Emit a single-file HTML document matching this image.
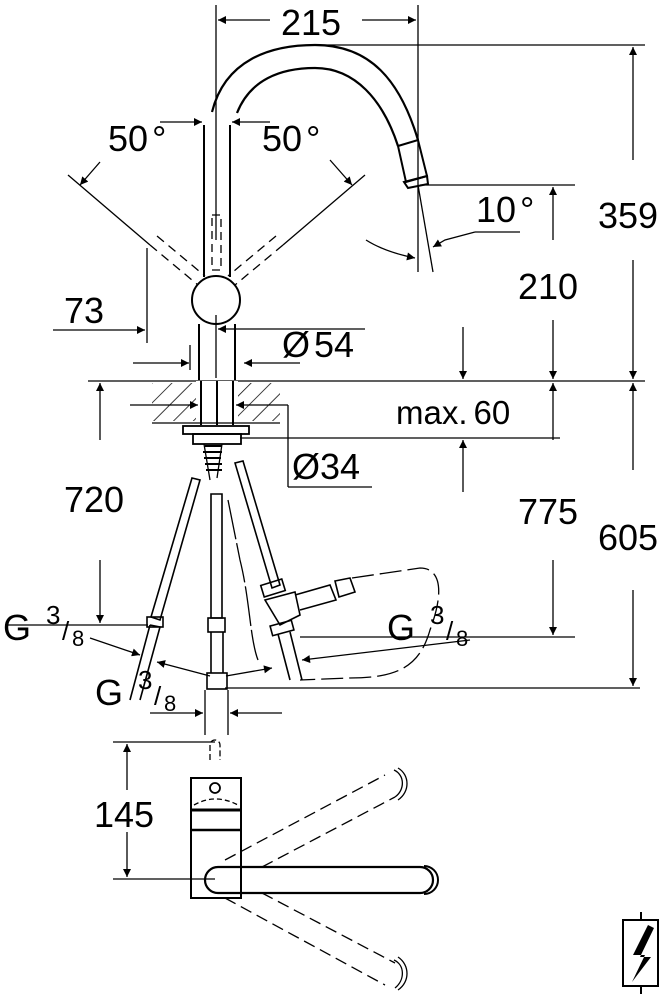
<!DOCTYPE html>
<html><head><meta charset="utf-8"><style>
html,body{margin:0;padding:0;background:#fff}
svg{display:block}
text{font-family:"Liberation Sans",sans-serif;fill:#000}
</style></head><body>
<svg width="666" height="996" viewBox="0 0 666 996" xmlns="http://www.w3.org/2000/svg">
<defs>
<marker id="a" viewBox="0 0 10 10" refX="10" refY="5" markerWidth="14" markerHeight="8" markerUnits="userSpaceOnUse" orient="auto"><path d="M0,0 L10,5 L0,10 z" fill="#000"/></marker>
<pattern id="h" width="14" height="14" patternUnits="userSpaceOnUse" patternTransform="rotate(45)"><line x1="0" y1="0" x2="0" y2="14" stroke="#000" stroke-width="1.5"/></pattern>
</defs>
<g stroke="#000" fill="none" stroke-width="1.3">
<line x1="216" y1="5" x2="216" y2="125"/>
<line x1="418" y1="5" x2="418" y2="272"/>
<line x1="270" y1="20" x2="218" y2="20" marker-end="url(#a)"/>
<line x1="362" y1="20" x2="416" y2="20" marker-end="url(#a)"/>
<path d="M212,112 C225,60 270,45 315,45 C370,45 400,80 418,140" stroke-width="2.2"/>
<path d="M237,113 C250,80 280,68 315,68 C355,68 383,100 398,146" stroke-width="2.2"/>
<path d="M398,146 L418,140 L427,176 L406,182 Z" stroke-width="2"/>
<path d="M404,182 L427,176 L428,184 L408,188 Z" stroke-width="2"/>
<line x1="315" y1="45" x2="645" y2="45"/>
<line x1="420" y1="185" x2="575" y2="185"/>
<line x1="418" y1="185" x2="433" y2="272"/>
<path d="M366,240 Q385,252 415,258" marker-end="url(#a)"/>
<path d="M475,232 L445,240 L433,247" marker-end="url(#a)"/>
<line x1="475" y1="232" x2="520" y2="232"/>
<line x1="204" y1="125" x2="204" y2="277" stroke-width="2"/>
<line x1="230" y1="125" x2="230" y2="277" stroke-width="2"/>
<rect x="212" y="215" width="9" height="55" stroke-dasharray="8,5"/>
<circle cx="216" cy="300" r="24" stroke-width="2"/>
<line x1="216" y1="125" x2="216" y2="240"/>
<line x1="216" y1="315" x2="216" y2="378"/>
<line x1="199" y1="324" x2="199" y2="380" stroke-width="2"/>
<line x1="235" y1="324" x2="235" y2="380" stroke-width="2"/>
<line x1="160" y1="122" x2="202" y2="122" marker-end="url(#a)"/>
<line x1="270" y1="122" x2="232" y2="122" marker-end="url(#a)"/>
<line x1="68" y1="175" x2="150" y2="245"/>
<line x1="100" y1="162" x2="80" y2="185" marker-end="url(#a)"/>
<line x1="365" y1="175" x2="283" y2="245"/>
<line x1="330" y1="160" x2="352" y2="185" marker-end="url(#a)"/>
<path d="M150,245 L198,285 M157,236 L205,276" stroke-dasharray="9,6"/>
<path d="M283,245 L235,285 M276,236 L228,276" stroke-dasharray="9,6"/>
<line x1="147" y1="248" x2="147" y2="343"/>
<line x1="53" y1="330" x2="145" y2="330" marker-end="url(#a)"/>
<line x1="190" y1="345" x2="190" y2="370"/>
<line x1="133" y1="363" x2="189" y2="363" marker-end="url(#a)"/>
<line x1="365" y1="329" x2="218" y2="329" marker-end="url(#a)"/>
<line x1="300" y1="363" x2="244" y2="363" marker-end="url(#a)"/>
<line x1="88" y1="381" x2="645" y2="381"/>
<rect x="152" y="383" width="128" height="38" fill="url(#h)" stroke="none"/>
<rect x="196" y="381" width="42" height="42" fill="#fff" stroke="none"/>
<line x1="152" y1="423" x2="280" y2="423"/>
<line x1="201" y1="381" x2="201" y2="425" stroke-width="2"/>
<line x1="233" y1="381" x2="233" y2="425" stroke-width="2"/>
<line x1="217" y1="381" x2="217" y2="425" stroke-width="2"/>
<line x1="130" y1="405" x2="198" y2="405" marker-end="url(#a)"/>
<line x1="288" y1="405" x2="236" y2="405" marker-end="url(#a)"/>
<line x1="288" y1="405" x2="288" y2="487"/>
<line x1="288" y1="487" x2="372" y2="487"/>
<rect x="183" y="426" width="66" height="8" stroke-width="1.8"/>
<rect x="193" y="434" width="48" height="10" stroke-width="1.8"/>
<line x1="240" y1="438" x2="560" y2="438"/>
<path d="M205,446 L222,446 M203,452 L222,452 M204,458 L221,458 M205,464 L222,464 M206,470 L222,470" stroke-width="2"/>
<line x1="204" y1="444" x2="210" y2="480"/>
<line x1="222" y1="444" x2="217" y2="478"/>
<line x1="463" y1="327" x2="463" y2="379" marker-end="url(#a)"/>
<line x1="463" y1="492" x2="463" y2="440" marker-end="url(#a)"/>
<g stroke-width="1.6">
<path d="M192,478 L200,480 L160,620 L151,617 Z"/>
<path d="M150,625 L160,627 L140,700 M150,625 L130,700"/>
<rect x="147" y="617" width="16" height="10"/>
<path d="M211,494 L222,494 L222,618 L211,618 Z"/>
<rect x="208" y="618" width="17" height="14"/>
<path d="M211,632 L211,673 M223,632 L223,673"/>
<rect x="207" y="673" width="20" height="16"/>
<path d="M235,463 L243,461 L280,585 L272,588 Z"/>
<rect x="262" y="582" width="22" height="12" transform="rotate(-17 273 588)"/>
<path d="M265,600 L295,592 L300,615 L280,625 Z"/>
<rect x="271" y="623" width="22" height="10" transform="rotate(-15 282 628)"/>
<path d="M278,634 L290,680 M290,632 L302,680"/>
<path d="M295,595 L330,585 L336,600 L300,610" />
<path d="M335,581 L350,578 L355,592 L339,597 Z"/>
</g>
<path d="M352,578 L420,568 C440,568 445,590 430,630 C420,665 400,678 350,678 L300,680" stroke-dasharray="22,6"/>
<path d="M228,500 L240,560 C250,600 250,640 258,660" stroke-dasharray="40,4"/>
<line x1="100" y1="440" x2="100" y2="383" marker-end="url(#a)"/>
<line x1="100" y1="560" x2="100" y2="623" marker-end="url(#a)"/>
<line x1="5" y1="625" x2="148" y2="625"/>
<line x1="90" y1="638" x2="140" y2="655" marker-end="url(#a)"/>
<line x1="553" y1="240" x2="553" y2="187" marker-end="url(#a)"/>
<line x1="553" y1="320" x2="553" y2="379" marker-end="url(#a)"/>
<line x1="553" y1="440" x2="553" y2="383" marker-end="url(#a)"/>
<line x1="553" y1="560" x2="553" y2="635" marker-end="url(#a)"/>
<line x1="633" y1="160" x2="633" y2="47" marker-end="url(#a)"/>
<line x1="633" y1="260" x2="633" y2="379" marker-end="url(#a)"/>
<line x1="633" y1="470" x2="633" y2="383" marker-end="url(#a)"/>
<line x1="633" y1="590" x2="633" y2="686" marker-end="url(#a)"/>
<line x1="300" y1="637" x2="575" y2="637"/>
<line x1="225" y1="688" x2="640" y2="688"/>
<line x1="470" y1="640" x2="302" y2="660" marker-end="url(#a)"/>
<line x1="210" y1="676" x2="157" y2="662" marker-end="url(#a)"/>
<line x1="226" y1="676" x2="272" y2="668" marker-end="url(#a)"/>
<line x1="205" y1="690" x2="205" y2="735"/>
<line x1="228" y1="690" x2="228" y2="735"/>
<line x1="150" y1="713" x2="203" y2="713" marker-end="url(#a)"/>
<line x1="282" y1="713" x2="230" y2="713" marker-end="url(#a)"/>
<line x1="113" y1="742" x2="215" y2="742"/>
<line x1="113" y1="879" x2="215" y2="879"/>
<line x1="127" y1="790" x2="127" y2="744" marker-end="url(#a)"/>
<line x1="127" y1="832" x2="127" y2="877" marker-end="url(#a)"/>
<path d="M210,760 L210,745 A5,5 0 0 1 220,745 L220,760" stroke-dasharray="6,3"/>
<rect x="191" y="778" width="50" height="120" stroke-width="2"/>
<circle cx="215" cy="788" r="5" stroke-width="1.8"/>
<line x1="191" y1="810" x2="241" y2="810" stroke-width="3"/>
<line x1="191" y1="830" x2="241" y2="830" stroke-width="2.5"/>
<path d="M194,805 Q215,793 238,805" stroke-dasharray="5,3"/>
<path d="M218,867 L420,867 A13,13 0 0 1 420,893 L218,893 A13,13 0 0 1 218,867 Z" stroke-width="2.2"/>
<path d="M424,866 A14,14 0 0 1 424,894" stroke-width="2"/>
<path d="M225,860 L385,775 M262,867 L395,797" stroke-dasharray="12,6"/>
<path d="M225,898 L385,985 M262,893 L395,963" stroke-dasharray="12,6"/>
<path d="M394,770 C405,775 405,790 395,797 M398,768 C410,775 410,792 398,800"/>
<path d="M394,960 C405,965 405,980 395,988 M398,957 C410,965 410,982 398,990"/>
<rect x="623" y="920" width="35" height="66" stroke-width="2"/>
<line x1="641" y1="912" x2="641" y2="920" stroke-width="2"/>
<line x1="641" y1="986" x2="641" y2="994" stroke-width="2"/>
</g>
<path d="M648,925 L633,955 L645,955 L632,982 L651,957 L640,957 L654,928 Z" fill="#000"/>
<g font-size="36">
<text x="281" y="35">215</text>
<text x="108" y="151">50<tspan dx="4">°</tspan></text>
<text x="262" y="151">50<tspan dx="4">°</tspan></text>
<text x="476" y="222">10<tspan dx="4">°</tspan></text>
<text x="598" y="228">359</text>
<text x="518" y="299">210</text>
<text x="64" y="323">73</text>
<text x="282" y="357">Ø<tspan dx="4">54</tspan></text>
<text x="396" y="424" font-size="33">max.<tspan dx="6">60</tspan></text>
<text x="292" y="479">Ø34</text>
<text x="64" y="512">720</text>
<text x="518" y="524">775</text>
<text x="598" y="550">605</text>
<text x="3" y="640">G</text><text x="46" y="624" font-size="26">3</text><text x="62" y="640" font-size="26">/</text><text x="72" y="646" font-size="22">8</text>
<text x="387" y="640">G</text><text x="430" y="624" font-size="26">3</text><text x="446" y="640" font-size="26">/</text><text x="456" y="646" font-size="22">8</text>
<text x="95" y="705">G</text><text x="138" y="689" font-size="26">3</text><text x="154" y="705" font-size="26">/</text><text x="164" y="711" font-size="22">8</text>
<text x="94" y="827">145</text>
</g>
</svg>
</body></html>
